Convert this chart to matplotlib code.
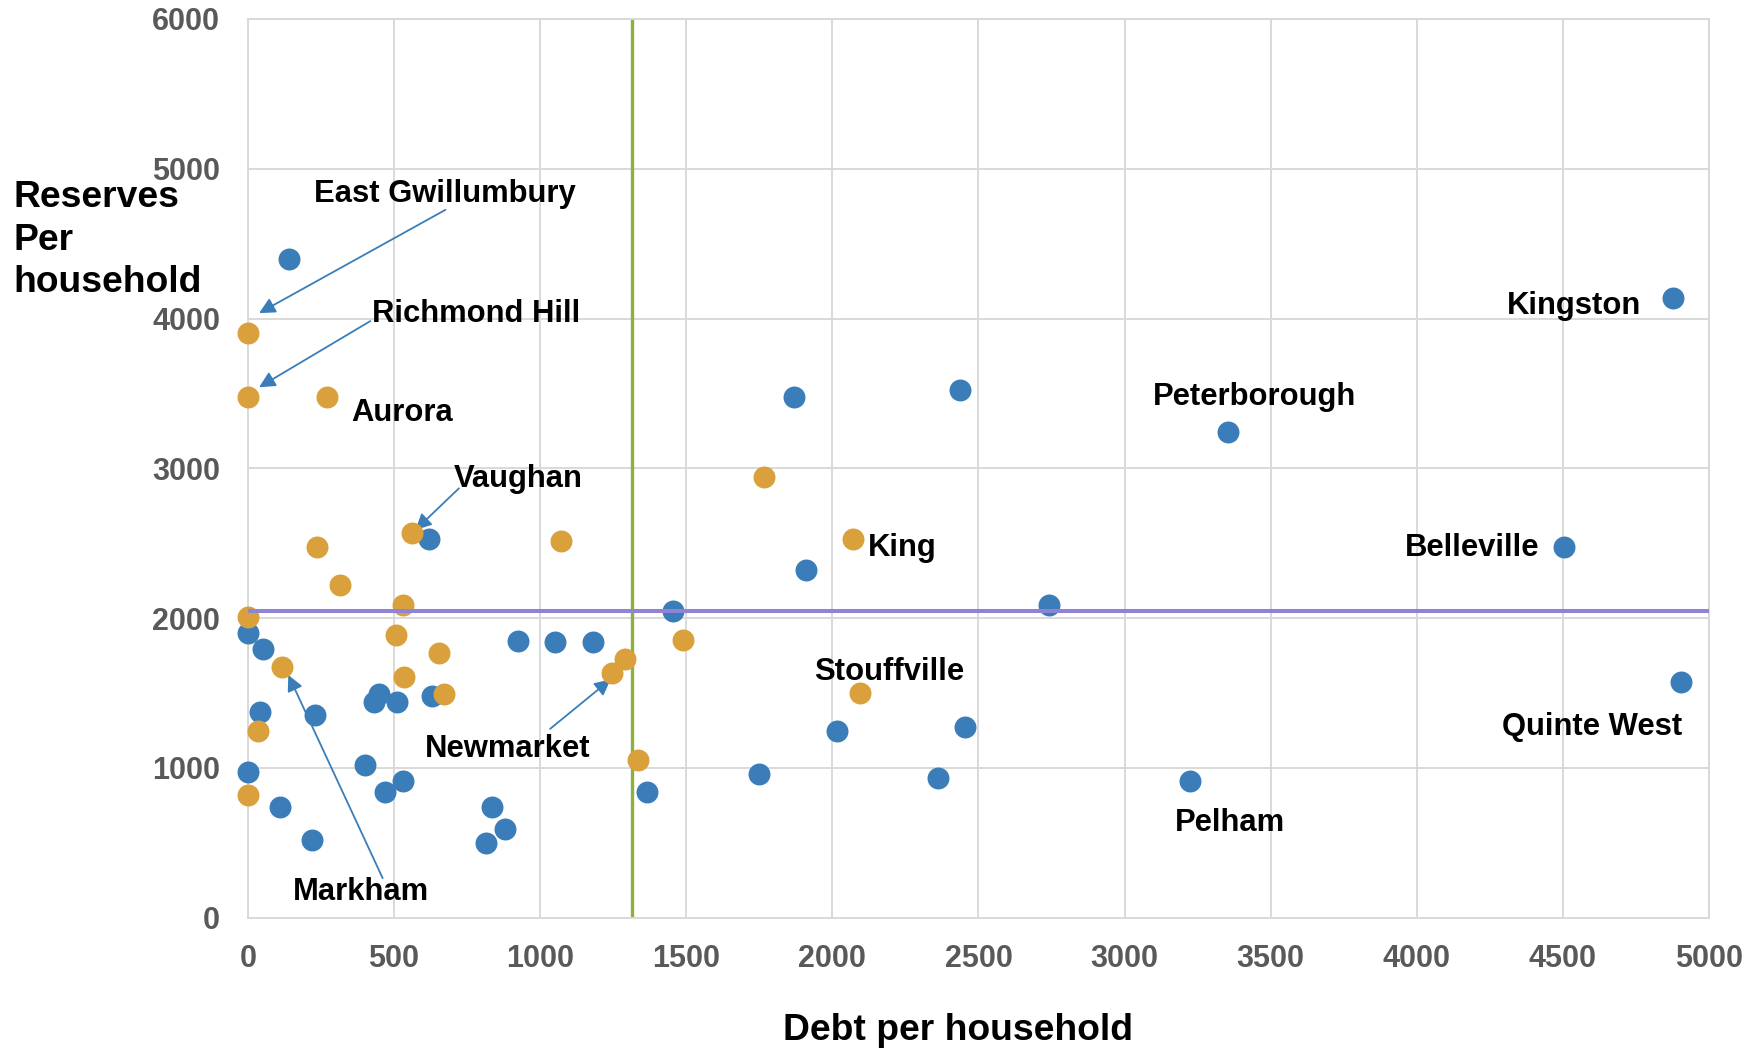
import matplotlib.pyplot as plt

plt.rcParams['font.family'] = ['Liberation Sans', 'DejaVu Sans']
plt.rcParams['font.weight'] = 'bold'

# other municipalities (blue) and York Region municipalities (orange)
blue_debt = [140, 620, 0, 50, 40, 230, 0, 110, 220, 400, 430, 450, 510, 470, 530,
             630, 815, 835, 880, 925, 1050, 1180, 1455, 1365, 1750, 1870, 1910,
             2015, 2360, 2435, 2455, 2740, 3225, 3355, 4505, 4875, 4905]
blue_reserves = [4400, 2530, 1900, 1790, 1370, 1350, 970, 740, 520, 1020, 1440, 1490,
                 1440, 840, 910, 1480, 500, 735, 590, 1850, 1840, 1840, 2050, 840,
                 960, 3475, 2320, 1245, 930, 3525, 1270, 2085, 910, 3240, 2475,
                 4135, 1570]

york_debt = [0, 0, 270, 235, 315, 560, 1070, 0, 530, 505, 655, 535, 670, 115, 35,
             0, 1245, 1290, 1335, 1490, 1765, 2070, 2095]
york_reserves = [3900, 3475, 3475, 2475, 2220, 2565, 2515, 2010, 2085, 1890, 1765,
                 1605, 1490, 1675, 1245, 818, 1635, 1725, 1050, 1855, 2940, 2530, 1500]

avg_debt = 1315
avg_reserves = 2050

x_ticks = list(range(0, 5001, 500))
y_ticks = list(range(0, 6001, 1000))

BLUE = '#3A7DB9'
ORANGE = '#D9A03B'
GRID = '#D9D9D9'

fig = plt.figure(figsize=(17.61, 10.49), dpi=100)
ax = fig.add_axes([0.1408, 0.1253, 0.8297, 0.8566])

ax.set_xlim(0, 5000)
ax.set_ylim(0, 6000)
ax.set_xticks(x_ticks)
ax.set_yticks(y_ticks)
ax.grid(True, color=GRID, lw=1.4, zorder=0)
ax.set_axisbelow(True)
for s in ax.spines.values():
    s.set_color(GRID)
    s.set_linewidth(1.4)
ax.tick_params(length=0, labelsize=22, labelcolor='#595959')
ax.tick_params(axis='x', pad=19)
ax.tick_params(axis='y', pad=20)

ax.axvline(avg_debt, color='#8CB13C', lw=2.4, zorder=1)
ax.scatter(blue_debt, blue_reserves, s=250, color=BLUE, lw=0, zorder=3, clip_on=False)
ax.scatter(york_debt, york_reserves, s=250, color=ORANGE, lw=0, zorder=4, clip_on=False)
ax.plot([0, 5000], [avg_reserves, avg_reserves], color='#8F83D4', lw=2.9, zorder=5,
        solid_capstyle='butt')

arrow = dict(arrowstyle='-|>', color=BLUE, lw=1.3, mutation_scale=24, shrinkA=0, shrinkB=0)
lab = dict(fontsize=22.3, fontweight='bold', color='black', zorder=6)

# labels with arrows
ax.annotate('', xy=(38, 4036), xytext=(676, 4726), arrowprops=arrow)
ax.text(227, 4830, 'East Gwillumbury', ha='left', va='center', **lab)
ax.annotate('', xy=(38, 3541), xytext=(419, 3983), arrowprops=arrow)
ax.text(423, 4030, 'Richmond Hill', ha='left', va='center', **lab)
ax.annotate('', xy=(573, 2588), xytext=(722, 2866), arrowprops=arrow)
ax.text(703, 2928, 'Vaughan', ha='left', va='center', **lab)
ax.annotate('', xy=(138, 1620), xytext=(461, 263), arrowprops=arrow)
ax.text(154, 170, 'Markham', ha='left', va='center', **lab)
ax.annotate('', xy=(1241, 1590), xytext=(1034, 1260), arrowprops=arrow)
ax.text(607, 1128, 'Newmarket', ha='left', va='center', **lab)

# plain labels
ax.text(354, 3370, 'Aurora', ha='left', va='center', **lab)
ax.text(2121, 2470, 'King', ha='left', va='center', **lab)
ax.text(1937, 1638, 'Stouffville', ha='left', va='center', **lab)
ax.text(3098, 3476, 'Peterborough', ha='left', va='center', **lab)
ax.text(3171, 633, 'Pelham', ha='left', va='center', **lab)
ax.text(4769, 4083, 'Kingston', ha='right', va='center', **lab)
ax.text(4420, 2470, 'Belleville', ha='right', va='center', **lab)
ax.text(4908, 1270, 'Quinte West', ha='right', va='center', **lab)

fig.text(13 / 1761, 1 - 240 / 1049, 'Reserves\nPer\nhousehold', ha='left', va='center',
         fontsize=26.8, fontweight='bold', linespacing=1.28)
fig.text(958 / 1761, 1 - 1031 / 1049, 'Debt per household', ha='center', va='center',
         fontsize=26.8, fontweight='bold')

fig.savefig('out.png', dpi=100)
